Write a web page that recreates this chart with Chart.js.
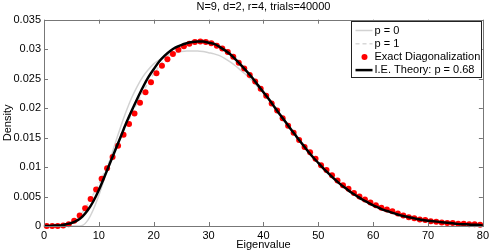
<!DOCTYPE html>
<html>
<head>
<meta charset="utf-8">
<script src="https://cdn.jsdelivr.net/npm/chart.js@4/dist/chart.umd.min.js"></script>
<style>
  html, body { margin: 0; padding: 0; background: #fff; }
</style>
</head>
<body>
<canvas id="myChart" width="492" height="252"></canvas>
<script>
'use strict';

// tick positions
const xTicks = [0, 10, 20, 30, 40, 50, 60, 70, 80];
const yTicks = [0, 0.005, 0.01, 0.015, 0.02, 0.025, 0.03, 0.035];

// curves are sampled at whole eigenvalues
const curveX = [
  0, 1, 2, 3, 4, 5, 6, 7, 8, 9, 10, 11, 12, 13, 14, 15, 16, 17, 18, 19, 20,
  21, 22, 23, 24, 25, 26, 27, 28, 29, 30, 31, 32, 33, 34, 35, 36, 37, 38, 39, 40,
  41, 42, 43, 44, 45, 46, 47, 48, 49, 50, 51, 52, 53, 54, 55, 56, 57, 58, 59, 60,
  61, 62, 63, 64, 65, 66, 67, 68, 69, 70, 71, 72, 73, 74, 75, 76, 77, 78, 79, 80
];

const p0Values = [
  0, 0, 0, 0, 0, 0, 0, 0.0001, 0.0010, 0.0028, 0.0052,
  0.0080, 0.0111, 0.0141, 0.0169, 0.0195, 0.0218, 0.0237, 0.0253, 0.0265, 0.0275,
  0.0282, 0.0287, 0.0291, 0.0294, 0.0296, 0.0297, 0.0297, 0.0297, 0.0296, 0.0294,
  0.0292, 0.0289, 0.0284, 0.0278, 0.0271, 0.0263, 0.0255, 0.0246, 0.0236, 0.0226,
  0.0215, 0.0203, 0.0191, 0.0178, 0.0166, 0.0153, 0.0141, 0.0129, 0.0118, 0.0107,
  0.0097, 0.0088, 0.0079, 0.0071, 0.0064, 0.0057, 0.0051, 0.0046, 0.0041, 0.0036,
  0.0032, 0.0028, 0.0025, 0.0022, 0.0019, 0.0017, 0.0015, 0.0013, 0.0011, 0.0010,
  0.0008, 0.0007, 0.0006, 0.0005, 0.0004, 0.0004, 0.0003, 0.0003, 0.0002, 0.0002
];

const p1Values = [
  0, 0, 0, 0.0001, 0.0002, 0.0005, 0.0012, 0.0023, 0.0037, 0.0054, 0.0072,
  0.0091, 0.0111, 0.0131, 0.0151, 0.0171, 0.0190, 0.0209, 0.0227, 0.0243, 0.0258,
  0.0271, 0.0283, 0.0292, 0.0300, 0.0306, 0.0311, 0.0314, 0.0316, 0.0316, 0.0314,
  0.0311, 0.0306, 0.0300, 0.0292, 0.0283, 0.0273, 0.0263, 0.0252, 0.0240, 0.0228,
  0.0216, 0.0203, 0.0191, 0.0178, 0.0166, 0.0154, 0.0142, 0.0131, 0.0120, 0.0109,
  0.0098, 0.0089, 0.0080, 0.0072, 0.0065, 0.0058, 0.0052, 0.0046, 0.0041, 0.0036,
  0.0032, 0.0028, 0.0025, 0.0022, 0.0019, 0.0017, 0.0015, 0.0013, 0.0011, 0.0010,
  0.0008, 0.0007, 0.0006, 0.0005, 0.0004, 0.0004, 0.0003, 0.0003, 0.0002, 0.0002
];

const theoryValues = [
  0, 0, 0.0001, 0.0001, 0.0003, 0.0005, 0.0009, 0.0016, 0.0027, 0.0042, 0.0061,
  0.0083, 0.0106, 0.0129, 0.0152, 0.0175, 0.0196, 0.0216, 0.0235, 0.0252, 0.0266,
  0.0279, 0.0289, 0.0297, 0.0303, 0.0307, 0.0310, 0.0312, 0.0313, 0.0313, 0.0311,
  0.0309, 0.0304, 0.0298, 0.0291, 0.0282, 0.0272, 0.0262, 0.0251, 0.0239, 0.0227,
  0.0215, 0.0202, 0.0189, 0.0177, 0.0164, 0.0152, 0.0140, 0.0128, 0.0117, 0.0107,
  0.0097, 0.0088, 0.0079, 0.0071, 0.0064, 0.0057, 0.0051, 0.0045, 0.0040, 0.0035,
  0.0031, 0.0027, 0.0024, 0.0021, 0.0018, 0.0016, 0.0014, 0.0012, 0.0010, 0.0009,
  0.0008, 0.0007, 0.0006, 0.0005, 0.0004, 0.0003, 0.0003, 0.0002, 0.0002, 0.0001
];

// histogram bin centres of the exact diagonalization
const binX = [
  0.5, 1.5, 2.5, 3.5, 4.5, 5.5, 6.5, 7.5, 8.5, 9.5,
  10.5, 11.5, 12.5, 13.5, 14.5, 15.5, 16.5, 17.5, 18.5, 19.5,
  20.5, 21.5, 22.5, 23.5, 24.5, 25.5, 26.5, 27.5, 28.5, 29.5,
  30.5, 31.5, 32.5, 33.5, 34.5, 35.5, 36.5, 37.5, 38.5, 39.5,
  40.5, 41.5, 42.5, 43.5, 44.5, 45.5, 46.5, 47.5, 48.5, 49.5,
  50.5, 51.5, 52.5, 53.5, 54.5, 55.5, 56.5, 57.5, 58.5, 59.5,
  60.5, 61.5, 62.5, 63.5, 64.5, 65.5, 66.5, 67.5, 68.5, 69.5,
  70.5, 71.5, 72.5, 73.5, 74.5, 75.5, 76.5, 77.5, 78.5, 79.5
];

const exactValues = [
  0, 0, 0, 0.0001, 0.0003, 0.0009, 0.0018, 0.0030, 0.0046, 0.0062,
  0.0080, 0.0098, 0.0117, 0.0136, 0.0155, 0.0173, 0.0191, 0.0209, 0.0227, 0.0244,
  0.0259, 0.0272, 0.0283, 0.0292, 0.0299, 0.0305, 0.0309, 0.0312, 0.0313, 0.0312,
  0.0310, 0.0306, 0.0301, 0.0295, 0.0287, 0.0277, 0.0267, 0.0256, 0.0245, 0.0233,
  0.0221, 0.0208, 0.0196, 0.0183, 0.0170, 0.0158, 0.0146, 0.0134, 0.0125, 0.0114,
  0.0103, 0.0095, 0.0086, 0.0077, 0.0069, 0.0063, 0.0056, 0.0050, 0.0045, 0.0040,
  0.0035, 0.0031, 0.0028, 0.0025, 0.0021, 0.0018, 0.0015, 0.0013, 0.0011, 0.0010,
  0.0008, 0.0007, 0.0006, 0.0005, 0.0005, 0.0004, 0.0004, 0.0003, 0.0003, 0.0002
];

const FONT = 'Liberation Sans, Arial, Helvetica, sans-serif';
const FRAME = '#777';

function pts(xs, ys) {
  return xs.map((x, i) => ({x: x, y: ys[i]}));
}

// MATLAB style box with inward ticks on all sides
const boxAxes = {
  id: 'boxAxes',
  afterDatasetsDraw(chart) {
    const ctx = chart.ctx;
    const a = chart.chartArea;
    const sx = chart.scales.x;
    const sy = chart.scales.y;
    const len = 4;
    ctx.save();
    ctx.strokeStyle = FRAME;
    ctx.lineWidth = 1;
    ctx.beginPath();
    xTicks.forEach(v => {
      const px = Math.round(sx.getPixelForValue(v)) + 0.5;
      ctx.moveTo(px, a.bottom); ctx.lineTo(px, a.bottom - len);
      ctx.moveTo(px, a.top); ctx.lineTo(px, a.top + len);
    });
    yTicks.forEach(v => {
      const py = Math.round(sy.getPixelForValue(v)) + 0.5;
      ctx.moveTo(a.left, py); ctx.lineTo(a.left + len, py);
      ctx.moveTo(a.right, py); ctx.lineTo(a.right - len, py);
    });
    ctx.stroke();
    ctx.strokeRect(Math.round(a.left) + 0.5, Math.round(a.top) + 0.5,
      Math.round(a.right - a.left), Math.round(a.bottom - a.top));
    ctx.restore();
  }
};

// legend box in the upper right corner
const boxLegend = {
  id: 'boxLegend',
  afterDraw(chart) {
    const ctx = chart.ctx;
    const a = chart.chartArea;
    const right = Math.round(a.right) - 1.5;
    const top = Math.round(a.top) + 1.5;
    const left = right - 130;
    const rowH = 13.2;
    ctx.save();
    ctx.fillStyle = '#fff';
    ctx.fillRect(left, top, right - left, 56);
    ctx.strokeStyle = '#222';
    ctx.lineWidth = 1;
    ctx.strokeRect(left, top, right - left, 56);
    ctx.font = '11px ' + FONT;
    ctx.textBaseline = 'middle';
    chart.data.datasets.forEach((ds, i) => {
      const cy = top + 9 + i * rowH;
      if (ds.showLine === false) {
        ctx.fillStyle = ds.pointBackgroundColor;
        ctx.beginPath();
        ctx.arc(left + 13, cy, 3, 0, Math.PI * 2);
        ctx.fill();
      } else {
        ctx.strokeStyle = ds.borderColor;
        ctx.lineWidth = ds.borderWidth;
        ctx.setLineDash(ds.borderDash || []);
        ctx.beginPath();
        ctx.moveTo(left + 4, cy);
        ctx.lineTo(left + 21, cy);
        ctx.stroke();
        ctx.setLineDash([]);
      }
      ctx.fillStyle = '#000';
      ctx.fillText(ds.label, left + 23, cy);
    });
    ctx.restore();
  }
};

const ctx = document.getElementById('myChart');

const myChart = new Chart(ctx, {
  type: 'line',
  data: {
    datasets: [
      {
        label: 'p = 0',
        data: pts(curveX, p0Values),
        borderColor: '#d2d2d2',
        borderWidth: 1.5,
        pointRadius: 0,
        cubicInterpolationMode: 'monotone',
        order: 3
      },
      {
        label: 'p = 1',
        data: pts(curveX, p1Values),
        borderColor: '#d8d8d8',
        borderWidth: 1.5,
        borderDash: [4, 3],
        pointRadius: 0,
        cubicInterpolationMode: 'monotone',
        order: 2
      },
      {
        label: 'Exact Diagonalization',
        data: pts(binX, exactValues),
        showLine: false,
        pointRadius: 3,
        pointBorderWidth: 0,
        pointBackgroundColor: '#ff0000',
        pointBorderColor: '#ff0000',
        clip: false,
        order: 1
      },
      {
        label: 'I.E. Theory: p = 0.68',
        data: pts(curveX, theoryValues),
        borderColor: '#000',
        borderWidth: 2.5,
        pointRadius: 0,
        cubicInterpolationMode: 'monotone',
        order: 0
      }
    ]
  },
  options: {
    responsive: false,
    animation: false,
    devicePixelRatio: 1,
    layout: { padding: { top: 0.5, right: 8, bottom: 0, left: 0 } },
    plugins: {
      legend: { display: false },
      tooltip: { enabled: false },
      title: {
        display: true,
        text: 'N=9, d=2, r=4, trials=40000',
        fullSize: false,
        color: '#000',
        font: { family: FONT, size: 11, weight: 'normal' },
        padding: { top: 0, bottom: 6 }
      }
    },
    scales: {
      x: {
        type: 'linear',
        min: 0,
        max: 80,
        afterFit(scale) { scale.height = 26; },
        grid: { display: false, drawTicks: false },
        border: { display: false },
        ticks: {
          stepSize: 10,
          padding: 3,
          color: '#000',
          maxRotation: 0,
          font: { family: FONT, size: 11 }
        },
        title: {
          display: true,
          text: 'Eigenvalue',
          color: '#000',
          padding: 0,
          font: { family: FONT, size: 11 }
        }
      },
      y: {
        min: 0,
        max: 0.035,
        afterFit(scale) { scale.width = 44; },
        grid: { display: false, drawTicks: false },
        border: { display: false },
        ticks: {
          stepSize: 0.005,
          padding: 3,
          color: '#000',
          font: { family: FONT, size: 11 },
          callback: v => String(+v.toFixed(3))
        },
        title: {
          display: true,
          text: 'Density',
          color: '#000',
          padding: { top: 1, bottom: 0 },
          font: { family: FONT, size: 11 }
        }
      }
    }
  },
  plugins: [boxAxes, boxLegend]
});
</script>
</body>
</html>
